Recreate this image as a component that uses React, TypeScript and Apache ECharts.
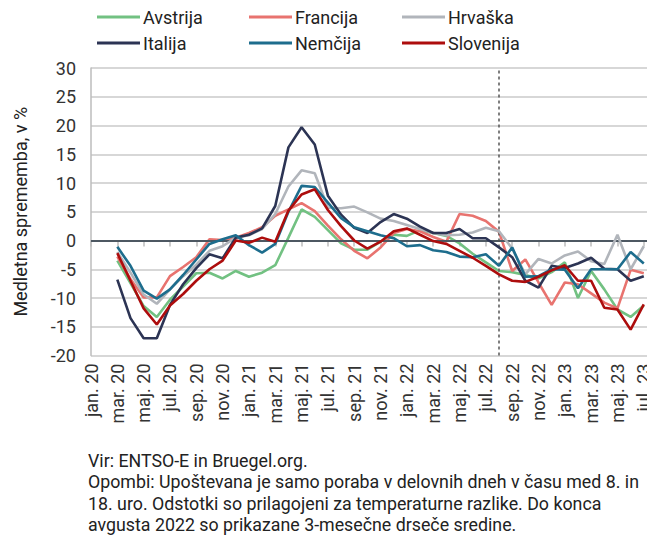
import React, { useEffect, useRef } from "react";
import * as echarts from "echarts";

const categories = [
  "jan. 20", "feb. 20", "mar. 20", "apr. 20", "maj. 20", "jun. 20", "jul. 20", "avg. 20", "sep. 20", "okt. 20", "nov. 20", "dec. 20",
  "jan. 21", "feb. 21", "mar. 21", "apr. 21", "maj. 21", "jun. 21", "jul. 21", "avg. 21", "sep. 21", "okt. 21", "nov. 21", "dec. 21",
  "jan. 22", "feb. 22", "mar. 22", "apr. 22", "maj. 22", "jun. 22", "jul. 22", "avg. 22", "sep. 22", "okt. 22", "nov. 22", "dec. 22",
  "jan. 23", "feb. 23", "mar. 23", "apr. 23", "maj. 23", "jun. 23", "jul. 23",
];

const avstrija = [null, null, -3.5, -7.4, -11.4, -13.3, -10.3, -8.0, -5.7, -5.6, -6.6, -5.3, -6.3, -5.6, -4.3, 0.5, 5.4, 4.1, 1.8, -0.5, -1.6, -1.6, -0.2, 1.0, 0.8, 1.8, 1.3, 0.8, -0.5, -2.3, -3.8, -5.3, -5.5, -6.0, -6.6, -5.5, -3.8, -10.0, -5.3, -8.5, -12.0, -13.3, -11.3];
const francija = [null, null, -2.8, -6.7, -9.9, -9.9, -6.2, -4.6, -2.9, 0.2, 0.1, 0.5, 1.3, 2.3, 4.3, 5.4, 6.5, 5.1, 2.6, 0.2, -1.8, -3.1, -1.2, 1.3, 2.0, 1.6, 0.6, -0.2, 4.6, 4.3, 3.4, 1.5, -5.3, -3.3, -7.3, -11.2, -7.3, -7.6, -9.2, -10.8, -11.8, -5.1, -5.7];
const hrvaska = [null, null, -2.0, -5.6, -9.4, -11.0, -8.5, -6.2, -4.2, -1.8, -1.0, 0.5, 0.9, 2.0, 4.6, 9.4, 12.2, 11.7, 5.7, 5.6, 5.9, 4.9, 3.8, 3.4, 2.7, 2.0, 1.3, 0.9, 1.0, 1.4, 2.2, 1.6, -1.4, -5.9, -3.2, -4.0, -2.6, -1.9, -3.6, -4.1, 1.0, -5.0, -1.0];
const italija = [null, null, -6.8, -13.5, -17.0, -17.0, -11.2, -7.6, -4.8, -2.4, -3.1, 0.5, 1.0, 2.1, 6.0, 16.2, 19.7, 16.7, 7.8, 4.5, 2.2, 1.3, 3.2, 4.6, 3.8, 2.4, 1.3, 1.3, 2.0, 0.4, 0.4, -1.2, -2.9, -7.0, -8.2, -4.4, -4.8, -4.0, -3.0, -4.9, -5.0, -7.0, -6.2];
const nemcija = [null, null, -1.1, -4.4, -8.7, -10.1, -8.5, -6.0, -3.3, -0.6, 0.2, 0.9, -0.8, -2.1, -0.6, 5.0, 9.5, 9.3, 6.6, 3.9, 2.3, 1.6, 0.9, 0.4, -1.0, -0.8, -1.7, -2.0, -2.8, -2.9, -2.4, -4.4, -1.2, -6.3, -6.2, -5.0, -5.1, -8.3, -5.0, -5.0, -5.0, -2.0, -4.0];
const slovenija = [null, null, -2.2, -7.0, -11.8, -14.6, -11.3, -9.3, -7.0, -5.0, -3.5, 0.0, -0.4, 0.5, -0.2, 5.2, 8.0, 8.9, 5.3, 2.5, 0.0, -1.4, -0.2, 1.6, 2.1, 1.0, -0.1, -0.6, -1.8, -3.0, -4.4, -5.9, -7.0, -7.2, -6.3, -5.2, -4.3, -7.0, -7.0, -11.7, -12.0, -15.5, -11.1];

const seriesNames = ["Avstrija", "Francija", "Hrvaška", "Italija", "Nemčija", "Slovenija"];
const seriesValues = [avstrija, francija, hrvaska, italija, nemcija, slovenija];
const seriesColors = ["#72c182", "#e8736f", "#b1b5bb", "#2c3454", "#1d6d8d", "#ad0d0d"];

const yTicks = [-20, -15, -10, -5, 0, 5, 10, 15, 20, 25, 30];
const dividerIndex = 31; // avg. 22

const footnotes = [
  "Vir: ENTSO-E in Bruegel.org.",
  "Opombi: Upoštevana je samo poraba v delovnih dneh v času med 8. in",
  "18. uro. Odstotki so prilagojeni za temperaturne razlike. Do konca",
  "avgusta 2022 so prikazane 3-mesečne drseče sredine.",
];

const FONT = "'Roboto', sans-serif";

export default function App() {
  const ref = useRef<HTMLDivElement>(null);

  useEffect(() => {
    if (!ref.current) return;
    const chart = echarts.init(ref.current, null, { renderer: "svg" });

    const labelTicks = categories.map((_, i) => i).filter((i) => i % 2 === 0);

    const legendPos = [
      [97, 8], [249, 8], [402, 8],
      [97, 34], [249, 34], [402, 34],
    ];

    const series: any[] = seriesNames.map((name, k) => ({
      name,
      type: "line",
      showSymbol: false,
      symbol: "none",
      color: seriesColors[k],
      lineStyle: { width: 2.6, color: seriesColors[k] },
      data: seriesValues[k]
        .map((v, i) => (v === null ? null : [i, v]))
        .filter((d) => d !== null),
      z: 3 + k,
    }));

    series.push({
      name: "_ref",
      type: "line",
      data: [],
      silent: true,
      markLine: {
        silent: true,
        symbol: "none",
        label: { show: false },
        animation: false,
        data: [
          { yAxis: 0, lineStyle: { color: "#4d5862", width: 2, type: "solid" } },
          { xAxis: dividerIndex, lineStyle: { color: "#555", width: 1.5, type: [3, 3] } },
        ],
      },
      z: 2,
    });

    chart.setOption({
      animation: false,
      backgroundColor: "#ffffff",
      textStyle: { fontFamily: FONT },
      legend: seriesNames.map((name, k) => ({
        data: [name],
        left: legendPos[k][0],
        top: legendPos[k][1],
        icon: "rect",
        itemWidth: 43,
        itemHeight: 3,
        itemGap: 0,
        padding: 0,
        selectedMode: false,
        textStyle: { fontSize: 18, color: "#222", fontFamily: FONT, padding: [0, 0, 0, -2] },
      })),
      grid: { left: 91, right: 2, top: 68, bottom: 179.5, containLabel: false },
      xAxis: {
        type: "value",
        min: 0,
        max: 42.7,
        axisLine: { show: true, lineStyle: { color: "#bdbdbd", width: 1.5 } },
        axisTick: { show: true, length: 6, lineStyle: { color: "#bdbdbd", width: 1.5 }, customValues: labelTicks },
        axisLabel: {
          customValues: labelTicks,
          rotate: 90,
          margin: 8,
          fontSize: 18,
          color: "#333",
          fontFamily: FONT,
          formatter: (v: number) => categories[Math.round(v)] ?? "",
        },
        splitLine: { show: false },
      },
      yAxis: {
        type: "value",
        min: -20,
        max: 30,
        interval: 5,
        name: "Medletna sprememba, v %",
        nameLocation: "middle",
        nameRotate: 90,
        nameGap: 62,
        nameTextStyle: { fontSize: 18, color: "#222", fontFamily: FONT },
        axisLine: { show: true, lineStyle: { color: "#bdbdbd", width: 1.5 } },
        axisTick: { show: false },
        axisLabel: {
          margin: 15,
          fontSize: 18,
          color: "#333",
          fontFamily: FONT,
          customValues: yTicks,
        },
        splitLine: { show: true, lineStyle: { color: "#cacaca", width: 1.5 } },
      },
      graphic: footnotes.map((t, i) => ({
        type: "text",
        left: 88,
        top: 451 + i * 21.6,
        style: { text: t, fontSize: 17.8, fill: "#222", fontFamily: FONT },
      })),
      series,
    });

    return () => chart.dispose();
  }, []);

  return <div ref={ref} style={{ width: 655, height: 535, marginLeft: -8, marginTop: -8 }} />;
}
